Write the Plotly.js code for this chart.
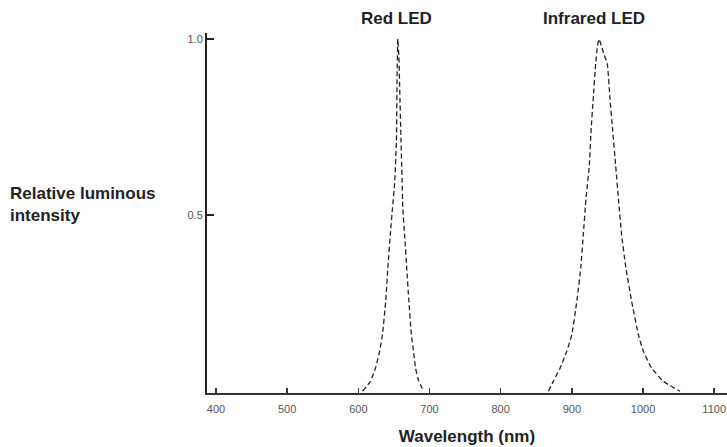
<!DOCTYPE html>
<html>
<head>
<meta charset="utf-8">
<script src="https://cdn.plot.ly/plotly-3.0.1.min.js"></script>
<style>html,body{margin:0;padding:0;background:#fff;}#chart{width:727px;height:447px;}</style>
</head>
<body>
<div id="chart"></div>
<script>
// Data
var redWavelength = [606, 617, 624, 630, 634, 638.5, 641.5, 645, 648, 651, 653.5, 654.5, 655.5, 657, 658.5, 660, 661.5, 662.5, 665, 668, 671, 674.5, 677.5, 680.5, 685, 692];
var redIntensity  = [0, 0.028, 0.065, 0.114, 0.162, 0.256, 0.35, 0.446, 0.52, 0.59, 0.71, 0.9, 1.0, 0.95, 0.83, 0.71, 0.6, 0.52, 0.446, 0.35, 0.256, 0.162, 0.114, 0.065, 0.028, 0];

var irWavelength = [867, 874, 883.5, 893, 900, 907, 912.5, 916, 920, 924.5, 927, 930, 933.5, 936, 938.2, 941.5, 945.5, 949.8, 953.6, 957.4, 961.6, 965.5, 970, 976, 984, 993.4, 1000.4, 1012, 1028.5, 1052];
var irIntensity  = [0, 0.028, 0.066, 0.114, 0.161, 0.256, 0.35, 0.442, 0.55, 0.64, 0.74, 0.83, 0.93, 0.98, 1.0, 0.98, 0.955, 0.93, 0.83, 0.74, 0.64, 0.545, 0.442, 0.35, 0.256, 0.161, 0.114, 0.066, 0.028, 0];

var xTickValues = [400, 500, 600, 700, 800, 900, 1000, 1100];
var xTickLabels = ['400', '500', '600', '700', '800', '900', '1000', '1100'];
var yTickValues = [0.5, 1.0];
var yTickLabels = ['0.5', '1.0'];

var seriesNames = ['Red LED', 'Infrared LED'];

var lineStyle = {color: '#222', width: 1.3, dash: '5px,3px', shape: 'spline', smoothing: 0.4};

var traces = [
  {x: redWavelength, y: redIntensity, name: seriesNames[0], mode: 'lines', line: lineStyle, hoverinfo: 'x+y'},
  {x: irWavelength, y: irIntensity, name: seriesNames[1], mode: 'lines', line: lineStyle, hoverinfo: 'x+y'}
];

var fontFam = '"Liberation Sans", Arial, Helvetica, sans-serif';

var layout = {
  width: 727, height: 447,
  margin: {l: 207, r: 0, t: 33, b: 54},
  paper_bgcolor: '#fff', plot_bgcolor: '#fff',
  showlegend: false,
  font: {family: fontFam, color: '#222'},
  xaxis: {
    range: [387.4, 1118],
    tickvals: xTickValues, ticktext: xTickLabels,
    ticks: 'inside', ticklen: 5, tickwidth: 1.5, tickcolor: '#333',
    ticklabelstandoff: 5,
    showline: true, linecolor: '#333', linewidth: 1.5,
    showgrid: false, zeroline: false,
    tickfont: {size: 11, color: '#555', family: fontFam},
    title: {text: 'Wavelength (nm)', font: {size: 17, weight: 'bold', color: '#222', family: fontFam}, standoff: 16}
  },
  yaxis: {
    range: [-0.005, 1.017],
    tickvals: yTickValues, ticktext: yTickLabels,
    ticks: 'inside', ticklen: 7, tickwidth: 2, tickcolor: '#222',
    showline: true, linecolor: '#222', linewidth: 2,
    showgrid: false, zeroline: false,
    tickfont: {size: 11, color: '#555', family: fontFam}
  },
  annotations: [
    {text: seriesNames[0], xref: 'x', yref: 'paper', x: 654, y: 1.039, showarrow: false,
     xanchor: 'center', yanchor: 'middle', font: {size: 17, weight: 'bold', color: '#222', family: fontFam}},
    {text: seriesNames[1], xref: 'x', yref: 'paper', x: 931, y: 1.039, showarrow: false,
     xanchor: 'center', yanchor: 'middle', font: {size: 17, weight: 'bold', color: '#222', family: fontFam}},
    {text: 'Relative luminous<br>intensity', xref: 'paper', yref: 'paper', x: -0.383, y: 0.525, showarrow: false,
     xanchor: 'left', yanchor: 'middle', align: 'left', font: {size: 17, weight: 'bold', color: '#222', family: fontFam}}
  ]
};

Plotly.newPlot('chart', traces, layout, {displayModeBar: false, staticPlot: true});
</script>
</body>
</html>
